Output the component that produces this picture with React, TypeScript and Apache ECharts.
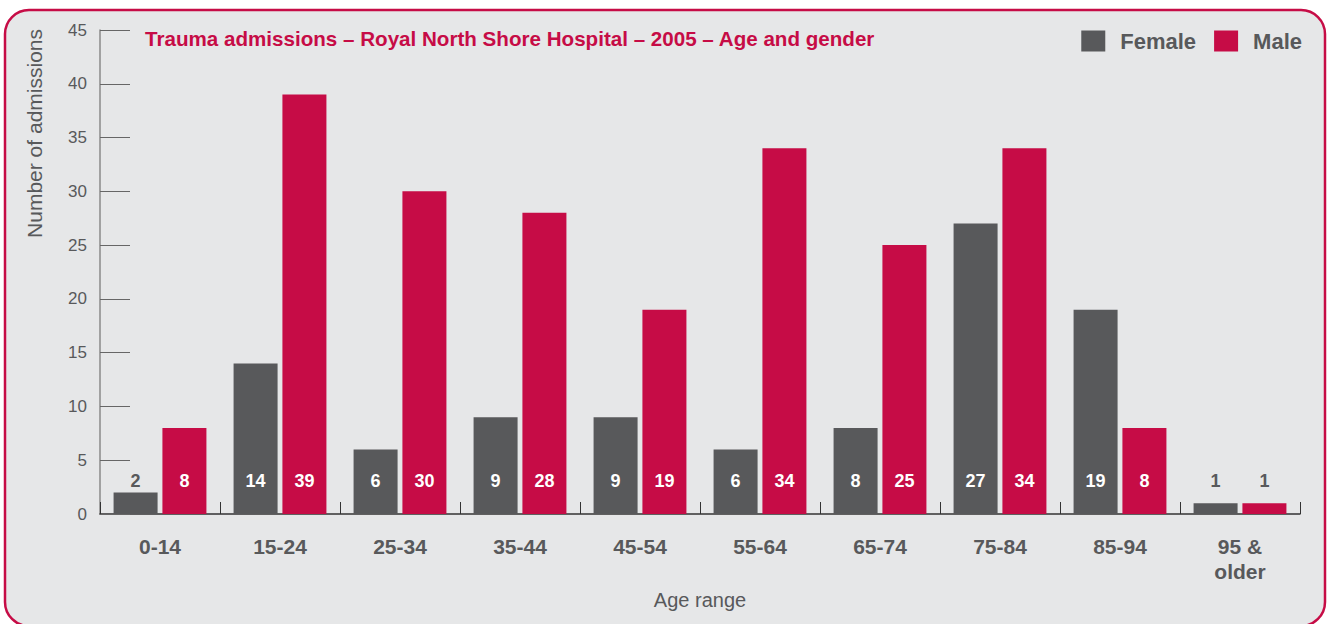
import React, { useEffect, useRef } from "react";
import * as echarts from "echarts";

const categories = ["0-14", "15-24", "25-34", "35-44", "45-54", "55-64", "65-74", "75-84", "85-94", "95 &\nolder"];
const female = [2, 14, 6, 9, 9, 6, 8, 27, 19, 1];
const male = [8, 39, 30, 28, 19, 34, 25, 34, 8, 1];
const yTicks = { min: 0, max: 45, interval: 5 };

const TITLE = "Trauma admissions – Royal North Shore Hospital – 2005 – Age and gender";
const CRIMSON = "#c60c46";
const GREY = "#58595b";
const FONT = "'Liberation Sans', Arial, Helvetica, sans-serif";

function mkData(vals: number[], threshold: number) {
  return vals.map((v) => ({
    value: v,
    label: { color: v < threshold ? GREY : "#ffffff" },
  }));
}

export default function App() {
  const ref = useRef<HTMLDivElement>(null);
  useEffect(() => {
    if (!ref.current) return;
    const chart = echarts.init(ref.current, undefined, { renderer: "svg" });
    const barLabel = {
      show: true,
      position: "insideBottom" as const,
      distance: 24,
      fontSize: 18,
      fontFamily: FONT,
      fontWeight: "bold" as const,
    };
    chart.setOption({
      animation: false,
      textStyle: { fontFamily: FONT },
      graphic: [
        {
          type: "rect",
          z: -10,
          silent: true,
          shape: { x: 5, y: 10, width: 1320, height: 616, r: 24 },
          style: { fill: "#e6e7e8", stroke: CRIMSON, lineWidth: 2.5 },
        },
        {
          type: "text",
          x: 145,
          y: 38,
          style: {
            text: TITLE,
            fill: CRIMSON,
            fontSize: 20.6,
            fontFamily: FONT,
            fontWeight: "bold",
            verticalAlign: "middle",
          },
        },
        {
          type: "text",
          x: 24,
          y: 29,
          rotation: Math.PI / 2,
          style: {
            text: "Number of admissions",
            fill: GREY,
            fontSize: 21,
            fontFamily: FONT,
            align: "right",
            verticalAlign: "top",
          },
        },
        {
          type: "text",
          x: 700,
          y: 600,
          style: {
            text: "Age range",
            fill: GREY,
            fontSize: 20,
            fontFamily: FONT,
            align: "center",
            verticalAlign: "middle",
          },
        },
      ],
      legend: {
        right: 34,
        top: 30,
        padding: 0,
        itemWidth: 24,
        itemHeight: 21,
        itemGap: 18,
        icon: "rect",
        textStyle: { fontSize: 22, color: GREY, fontFamily: FONT, fontWeight: "bold", padding: [0, 0, 0, 10] },
        data: ["Female", "Male"],
      },
      grid: { left: 100, top: 30, width: 1200, height: 484, containLabel: false },
      xAxis: {
        type: "category",
        data: categories,
        axisLine: { lineStyle: { color: "#333333", width: 1.5 } },
        axisTick: { show: true, inside: true, length: 12, lineStyle: { color: "#333333" } },
        axisLabel: {
          color: GREY,
          fontSize: 21,
          fontWeight: "bold",
          margin: 20,
          lineHeight: 25,
          fontFamily: FONT,
        },
      },
      yAxis: {
        type: "value",
        min: yTicks.min,
        max: yTicks.max,
        interval: yTicks.interval,
        axisLine: { show: true, lineStyle: { color: "#8a8a8a", width: 1.5 } },
        axisTick: { show: true, inside: true, length: 30, lineStyle: { color: "#666666" } },
        splitLine: { show: false },
        axisLabel: { color: GREY, fontSize: 17, margin: 13, fontFamily: FONT },
      },
      series: [
        {
          name: "Female",
          type: "bar",
          data: mkData(female, 3),
          itemStyle: { color: GREY },
          barWidth: 44,
          barGap: "11%",
          label: barLabel,
        },
        {
          name: "Male",
          type: "bar",
          data: mkData(male, 3),
          itemStyle: { color: CRIMSON },
          barWidth: 44,
          label: barLabel,
        },
      ],
    });
    return () => chart.dispose();
  }, []);
  return (
    <div
      ref={ref}
      style={{ position: "fixed", left: 0, top: 0, width: 1336, height: 624, background: "#ffffff" }}
    />
  );
}
